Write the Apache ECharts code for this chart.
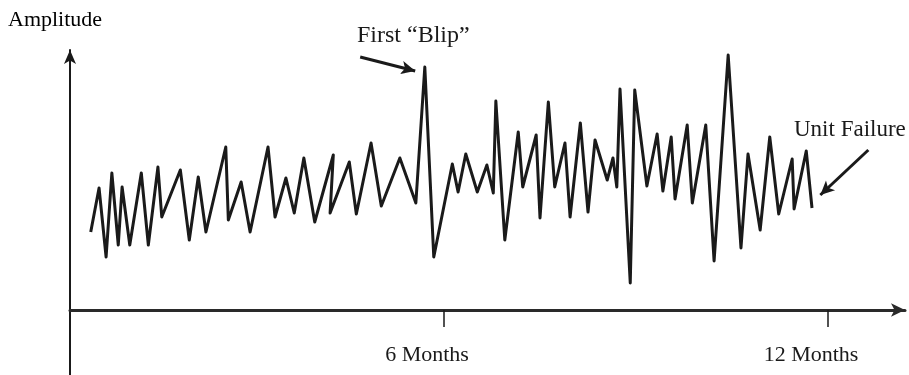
<!DOCTYPE html>
<html>
<head>
<meta charset="utf-8">
<title>Amplitude over time</title>
<script src="https://cdn.jsdelivr.net/npm/echarts@6/dist/echarts.min.js"></script>
<style>
    html, body { margin: 0; padding: 0; background: #fff; }
    #chart { width: 909px; height: 375px; }
</style>
</head>
<body>
<div id="chart"></div>
<script>
// time in months, amplitude in arbitrary units
const months = [
    0.48, 0.61, 0.72, 0.81, 0.91, 0.97, 1.09, 1.27, 1.38, 1.53,
    1.59, 1.88, 2.02, 2.16, 2.28, 2.59, 2.63, 2.83, 2.97, 3.25,
    3.36, 3.53, 3.66, 3.81, 3.98, 4.27, 4.22, 4.52, 4.63, 4.86,
    5.02, 5.31, 5.56, 5.70, 5.84, 6.13, 6.22, 6.34, 6.52, 6.67,
    6.77, 6.81, 6.95, 7.16, 7.23, 7.44, 7.50, 7.63, 7.73, 7.89,
    7.97, 8.13, 8.25, 8.36, 8.55, 8.64, 8.70, 8.75, 8.91, 8.98,
    9.17, 9.33, 9.42, 9.55, 9.61, 9.80, 9.88, 10.09, 10.22, 10.44,
    10.64, 10.75, 10.94, 11.09, 11.23, 11.44, 11.47, 11.66, 11.75
];
const amplitude = [
    7.8, 12.2, 5.3, 13.7, 6.5, 12.3, 6.5, 13.7, 6.5, 14.3,
    9.3, 14.0, 7.0, 13.3, 7.8, 16.3, 9.0, 12.8, 7.8, 16.3,
    9.3, 13.2, 9.7, 15.2, 8.8, 15.5, 9.7, 14.8, 9.6, 16.7,
    10.4, 15.2, 10.7, 24.3, 5.3, 14.6, 11.8, 15.6, 11.8, 14.5,
    11.7, 20.9, 7.0, 17.8, 12.3, 17.5, 9.2, 20.8, 12.3, 16.7,
    9.3, 18.7, 9.8, 17.0, 13.0, 15.2, 12.3, 22.1, 2.7, 22.0,
    12.4, 17.6, 11.9, 17.3, 11.1, 18.5, 10.7, 18.5, 4.9, 25.5,
    6.2, 15.6, 8.0, 17.3, 9.6, 15.1, 10.1, 15.9, 10.2
];
const tickMonths = [6, 12];
const tickLabels = ['6 Months', '12 Months'];

// annotation arrows: [from, to] in [month, amplitude]
const blipArrow = [[4.69, 25.3], [5.55, 23.9]];
const failureArrow = [[12.63, 16.0], [11.88, 11.5]];

const chart = echarts.init(document.getElementById('chart'));
const ink = '#1a1a1a';
const serif = 'Liberation Serif';

const points = months.map((m, i) => [m, amplitude[i]]);

const notes = [
    { type: 'text', id: 'ylabel', left: 8, top: 9,
      style: { text: 'Amplitude', font: '22px ' + serif, fill: '#000' } },
    { type: 'text', id: 'blip', left: 357, top: 24,
      style: { text: 'First \u201cBlip\u201d', font: '24px ' + serif, fill: ink } },
    { type: 'text', id: 'failure', left: 794, top: 118,
      style: { text: 'Unit Failure', font: '23px ' + serif, fill: ink } }
];

const option = {
    backgroundColor: '#fff',
    animation: false,
    grid: { left: 70, right: 4, top: 50, bottom: 0, outerBoundsMode: 'none', containLabel: false },
    xAxis: {
        type: 'value',
        min: 0.156,
        max: 13.203,
        splitLine: { show: false },
        axisLine: {
            onZero: true,
            symbol: ['none', 'arrow'],
            symbolSize: [10, 14],
            lineStyle: { color: '#2a2a2a', width: 3 }
        },
        axisTick: {
            customValues: tickMonths,
            length: 17,
            lineStyle: { color: ink, width: 1.5 }
        },
        axisLabel: { show: false }
    },
    yAxis: {
        type: 'value',
        min: -6.5,
        max: 26,
        splitLine: { show: false },
        axisTick: { show: false },
        axisLabel: { show: false },
        axisLine: {
            show: true,
            onZero: false,
            symbol: ['none', 'arrow'],
            symbolSize: [9, 14],
            lineStyle: { color: ink, width: 2 }
        }
    },
    graphic: notes,
    series: [
        {
            type: 'line',
            data: points,
            symbol: 'none',
            silent: true,
            lineStyle: { color: ink, width: 3, join: 'round' },
            markLine: {
                silent: true,
                symbol: ['none', 'arrow'],
                symbolSize: [10, 14],
                label: { show: false },
                lineStyle: { color: ink, width: 3, type: 'solid' },
                data: [
                    [{ coord: blipArrow[0] }, { coord: blipArrow[1] }],
                    [{ coord: failureArrow[0] }, { coord: failureArrow[1] }]
                ]
            }
        }
    ]
};

chart.setOption(option);

// month labels sit under their ticks (a little to the left, as drawn)
const monthLabels = tickMonths.map((m, i) => {
    const p = chart.convertToPixel({ gridIndex: 0 }, [m, 0]);
    return {
        type: 'text', id: 'month' + i,
        x: p[0] - 17, y: p[1] + 34,
        style: {
            text: tickLabels[i], font: '22px ' + serif, fill: ink,
            align: 'center', verticalAlign: 'top'
        }
    };
});
chart.setOption({ graphic: notes.concat(monthLabels) });
</script>
</body>
</html>
